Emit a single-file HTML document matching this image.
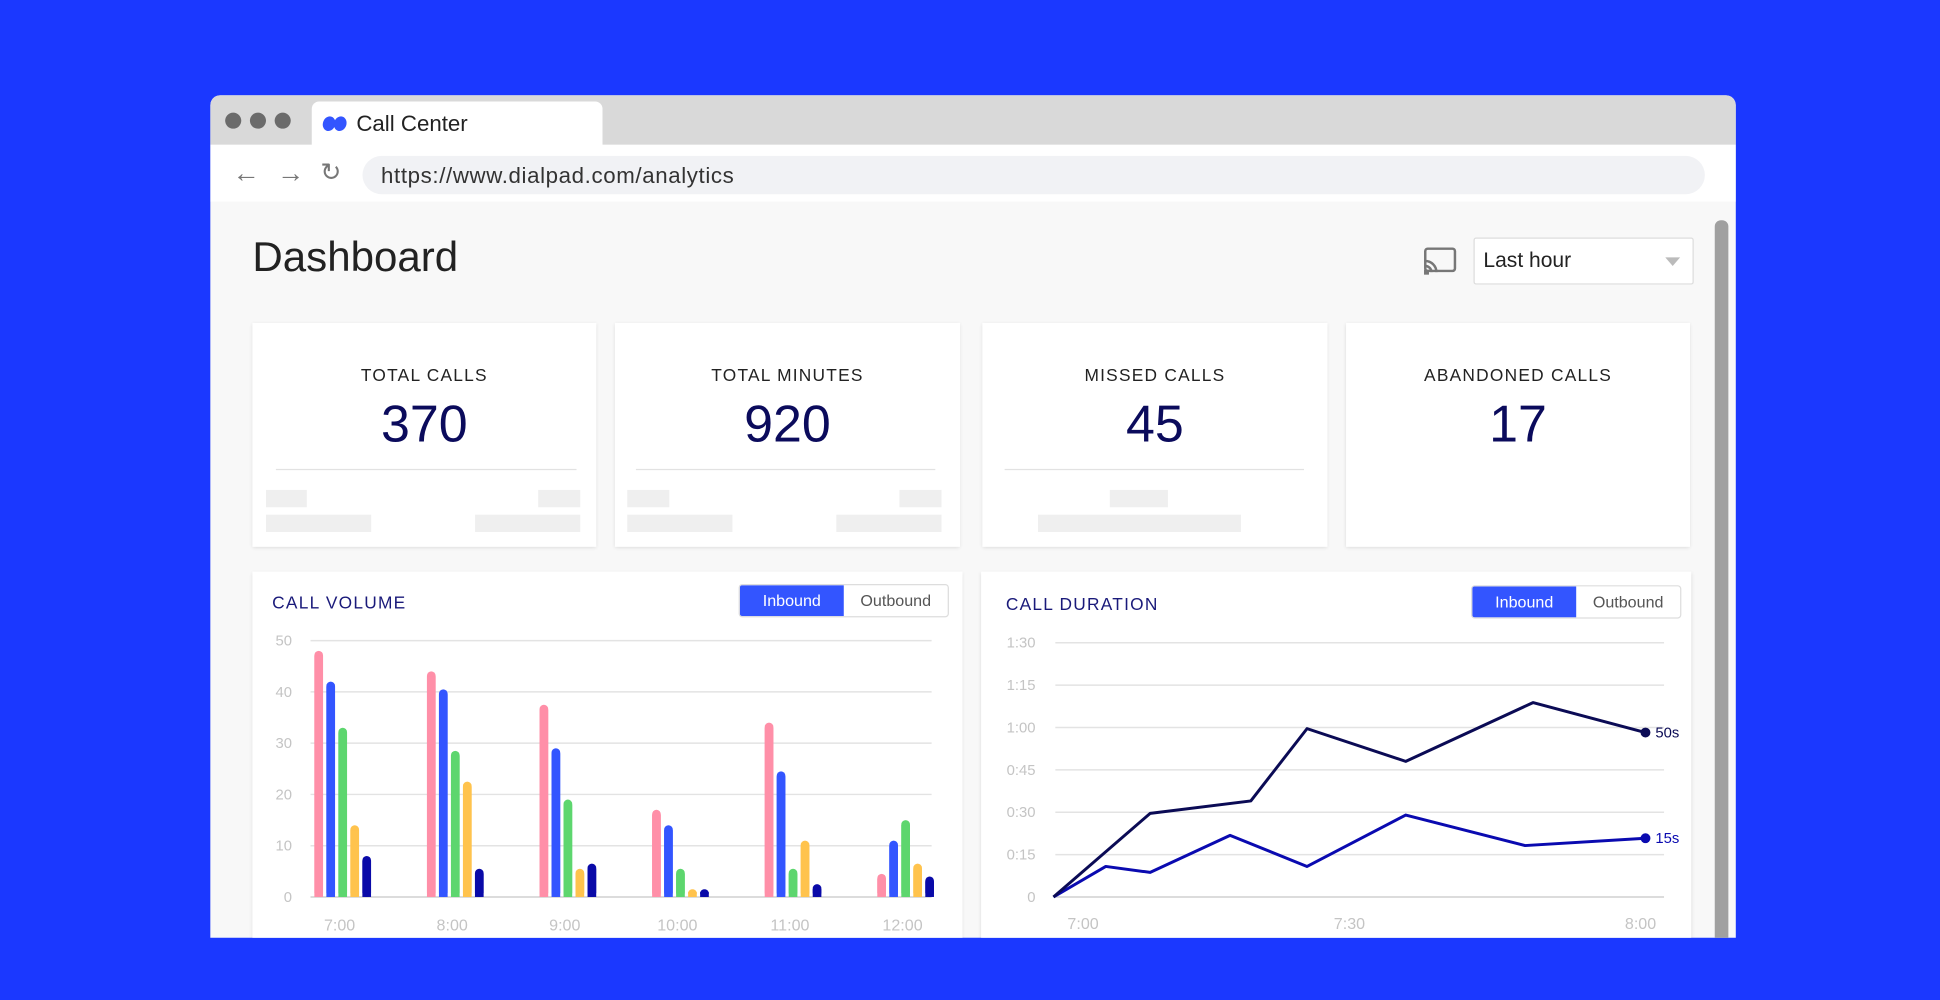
<!DOCTYPE html>
<html><head><meta charset="utf-8">
<style>
html,body{margin:0;padding:0;width:1940px;height:1000px;overflow:hidden;background:#1b38ff;font-family:"Liberation Sans",sans-serif;}
#stage{position:absolute;left:0;top:0;width:1568px;height:808px;transform:scale(1.2372);transform-origin:0 0;}
.abs{position:absolute;}
.win{left:170px;top:77px;width:1233px;height:681px;background:#f8f8f8;border-radius:8px 8px 0 0;overflow:hidden;}
.card{position:absolute;background:#fff;box-shadow:0 1px 3px rgba(0,0,0,0.12);}
.ct{position:absolute;left:0;right:0;text-align:center;top:34px;font-size:14px;letter-spacing:1px;color:#222;}
.cn{position:absolute;left:0;right:0;text-align:center;top:58px;font-size:42px;color:#0b0b5c;}
.ph{position:absolute;background:#efefef;}
.dv{position:absolute;height:1px;background:#e2e2e2;top:118px;}
.tg{position:absolute;height:25px;border:1px solid #ddd;border-radius:3px;overflow:hidden;font-size:13px;}
.tg span{display:inline-block;width:84px;height:25px;line-height:25px;text-align:center;color:#555;}
.tg span.on{background:#3355ff;color:#fff;}
.chtitle{position:absolute;left:16px;top:17px;font-size:14px;letter-spacing:1px;color:#1a1a7a;}
</style></head><body>
<div id="stage">
<div class="abs win">
  <div class="abs" style="left:0;top:0;width:1233px;height:40px;background:#d9d9d9"></div>
  <div class="abs" style="left:12px;top:14px;width:13px;height:13px;border-radius:50%;background:#6b6b6b"></div>
  <div class="abs" style="left:32px;top:14px;width:13px;height:13px;border-radius:50%;background:#6b6b6b"></div>
  <div class="abs" style="left:52px;top:14px;width:13px;height:13px;border-radius:50%;background:#6b6b6b"></div>
  <div class="abs" style="left:82px;top:5px;width:235px;height:36px;background:#fff;border-radius:6px 6px 0 0">
    <svg class="abs" style="left:8px;top:10px" width="22" height="16"><ellipse cx="6" cy="8" rx="5" ry="6" fill="#3355ff" transform="rotate(20 6 8)"/><ellipse cx="15" cy="8" rx="5" ry="6" fill="#3355ff" transform="rotate(20 15 8)"/></svg>
    <div class="abs" style="left:36px;top:8px;font-size:18px;color:#222">Call Center</div>
  </div>
  <div class="abs" style="left:0;top:40px;width:1233px;height:46px;background:#fff"></div>
  <div class="abs" style="left:18px;top:50px;font-size:22px;color:#777">←</div>
  <div class="abs" style="left:54px;top:50px;font-size:22px;color:#777">→</div>
  <div class="abs" style="left:89px;top:50px;font-size:20px;color:#777">↻</div>
  <div class="abs" style="left:123px;top:49px;width:1085px;height:31px;background:#f1f2f5;border-radius:16px">
    <div class="abs" style="left:15px;top:6px;font-size:18px;color:#333;letter-spacing:0.5px">https://www.dialpad.com/analytics</div>
  </div>
  <div class="abs" style="left:1216px;top:101px;width:11px;height:600px;background:#a0a0a0;border-radius:5px"></div>
  <div class="abs" style="left:34px;top:112px;font-size:34px;color:#222">Dashboard</div>
  <svg class="abs" style="left:980px;top:122px" width="28" height="24"><rect x="2" y="2" width="24" height="18" rx="2" fill="none" stroke="#777" stroke-width="2"/><path d="M2 12a9 9 0 0 1 9 9M2 16a5 5 0 0 1 5 5" fill="none" stroke="#777" stroke-width="2"/><rect x="1" y="19" width="4" height="4" fill="#777"/></svg>
  <div class="abs" style="left:1021px;top:115px;width:176px;height:36px;background:#fff;border:1px solid #ddd;border-radius:2px">
    <div class="abs" style="left:7px;top:8px;font-size:17px;color:#222">Last hour</div>
    <div class="abs" style="left:154px;top:15px;width:0;height:0;border-left:6px solid transparent;border-right:6px solid transparent;border-top:7px solid #bbb"></div>
  </div>

  <div class="card" style="left:34px;top:184px;width:278px;height:181px">
    <div class="ct">TOTAL CALLS</div>
    <div class="cn">370</div>
    <div class="dv" style="left:19px;width:243px"></div>
    <div class="ph" style="left:11px;top:135px;width:33px;height:14px"></div><div class="ph" style="left:231px;top:135px;width:34px;height:14px"></div>
    <div class="ph" style="left:11px;top:155px;width:85px;height:14px"></div><div class="ph" style="left:180px;top:155px;width:85px;height:14px"></div>
  </div>
  <div class="card" style="left:327px;top:184px;width:279px;height:181px">
    <div class="ct">TOTAL MINUTES</div>
    <div class="cn">920</div>
    <div class="dv" style="left:17px;width:242px"></div>
    <div class="ph" style="left:10px;top:135px;width:34px;height:14px"></div><div class="ph" style="left:230px;top:135px;width:34px;height:14px"></div>
    <div class="ph" style="left:10px;top:155px;width:85px;height:14px"></div><div class="ph" style="left:179px;top:155px;width:85px;height:14px"></div>
  </div>
  <div class="card" style="left:624px;top:184px;width:279px;height:181px">
    <div class="ct">MISSED CALLS</div>
    <div class="cn">45</div>
    <div class="dv" style="left:18px;width:242px"></div>
    <div class="ph" style="left:103px;top:135px;width:47px;height:14px"></div>
    <div class="ph" style="left:45px;top:155px;width:164px;height:14px"></div>
  </div>
  <div class="card" style="left:918px;top:184px;width:278px;height:181px">
    <div class="ct">ABANDONED CALLS</div>
    <div class="cn">17</div>
  </div>

  <div class="card" style="left:34px;top:385px;width:574px;height:320px">
    <div class="chtitle">CALL VOLUME</div>
    <div class="tg" style="left:393px;top:10px"><span class="on">Inbound</span><span>Outbound</span></div>
  </div>
  <div class="card" style="left:623px;top:385px;width:574px;height:320px">
    <div class="chtitle" style="left:20px;top:18px">CALL DURATION</div>
    <div class="tg" style="left:396px;top:11px"><span class="on">Inbound</span><span>Outbound</span></div>
  </div>
</div>
<svg id="charts" class="abs" style="left:0;top:0" width="1568" height="808"></svg>
</div>
<script>
// Call volume data
const volCategories = ["7:00","8:00","9:00","10:00","11:00","12:00"];
const volTicks = [0,10,20,30,40,50];
const volSeriesA = [48,44,37.5,17,34,4.5];
const volSeriesB = [42,40.5,29,14,24.5,11];
const volSeriesC = [33,28.5,19,5.5,5.5,15];
const volSeriesD = [14,22.5,5.5,1.5,11,6.5];
const volSeriesE = [8,5.5,6.5,1.5,2.5,4];
// Call duration data (minutes past 7:00, seconds)
const durTicks = [0,15,30,45,60,75,90];
const durTickLabels = ["0","0:15","0:30","0:45","1:00","1:15","1:30"];
const durXTicks = [3,30,60];
const durXTickLabels = ["7:00","7:30","8:00"];
const durDarkX = [0,9.8,20,25.7,35.7,48.6,60];
const durDarkY = [0,29.6,34,59.6,48,68.8,58.2];
const durBlueX = [0,5.3,9.8,17.9,25.7,35.7,47.8,60];
const durBlueY = [0,10.8,8.7,21.8,10.8,29,18.2,20.8];
const durEndLabels = ["50s","15s"];

const NS="http://www.w3.org/2000/svg";
const svg=document.getElementById('charts');
function mk(t,a){const e=document.createElementNS(NS,t);for(const k in a)e.setAttribute(k,a[k]);svg.appendChild(e);return e;}

const vy0=725, vy1=517.8;
const vY=v=>vy0-(v/50)*(vy0-vy1);
const vX=i=>257.5+i*91;
volTicks.forEach(t=>{
  const l=mk('line',{x1:251,x2:753,y1:vY(t),y2:vY(t),stroke:t===0?'#d0d0d0':'#e3e3e3','stroke-width':1.2});
  
  
  const tx=mk('text',{x:236,y:vY(t)+4,'text-anchor':'end','font-size':12,fill:'#c4c4c4','font-family':'Liberation Sans, sans-serif'});
  tx.textContent=t;
  
  
});
const volSeries=[volSeriesA,volSeriesB,volSeriesC,volSeriesD,volSeriesE];
const volColors=['#ff8fa8','#3355ff','#5dd66e','#ffc34d','#0a0aa8'];
volCategories.forEach((c,i)=>{
  volSeries.forEach((s,j)=>{
    const x=vX(i)+j*9.7-3.4, y=vY(s[i]);
    const b=mk('rect',{x:x,y:y,width:7,height:vy0-y,rx:3.5,fill:volColors[j]});
    
    
    mk('rect',{x:x,y:Math.min(vy0-4,y+4),width:7,height:Math.max(0,vy0-Math.min(vy0-4,y+4)),fill:volColors[j]});
  });
  const tx=mk('text',{x:vX(i)+17,y:752,'text-anchor':'middle','font-size':13,fill:'#c4c4c4','font-family':'Liberation Sans, sans-serif'});
  tx.textContent=c;
  
  
});

const dy0=725, dy1=519.5;
const dY=v=>dy0-(v/90)*(dy0-dy1);
const dX=m=>851.5+(m/60)*(1330-851.5);
durTicks.forEach((t,i)=>{
  const l=mk('line',{x1:853,x2:1345,y1:dY(t),y2:dY(t),stroke:t===0?'#d0d0d0':'#e3e3e3','stroke-width':1.2});
  
  
  const tx=mk('text',{x:837,y:dY(t)+4,'text-anchor':'end','font-size':12,fill:'#c4c4c4','font-family':'Liberation Sans, sans-serif'});
  tx.textContent=durTickLabels[i];
  
  
});
durXTicks.forEach((m,i)=>{
  const tx=mk('text',{x:dX(m)+ (i===2?-4:0),y:751,'text-anchor':'middle','font-size':13,fill:'#c4c4c4','font-family':'Liberation Sans, sans-serif'});
  tx.textContent=durXTickLabels[i];
  
  
});
function line(xs,ys,col,name,label){
  const p=mk('polyline',{points:xs.map((x,i)=>dX(x)+','+dY(ys[i])).join(' '),fill:'none',stroke:col,'stroke-width':2.4,'stroke-linejoin':'round'});
  
  
  const n=xs.length-1;
  const c=mk('circle',{cx:dX(xs[n]),cy:dY(ys[n]),r:4,fill:col});
  
  
  const t=mk('text',{x:dX(xs[n])+8,y:dY(ys[n])+4,'font-size':12,fill:col,'font-family':'Liberation Sans, sans-serif'});
  t.textContent=label;
  
  
}
line(durBlueX,durBlueY,'#0a0ab0','blue-duration-line',durEndLabels[1]);
line(durDarkX,durDarkY,'#0b0b55','dark-duration-line',durEndLabels[0]);
</script>
</body></html>
